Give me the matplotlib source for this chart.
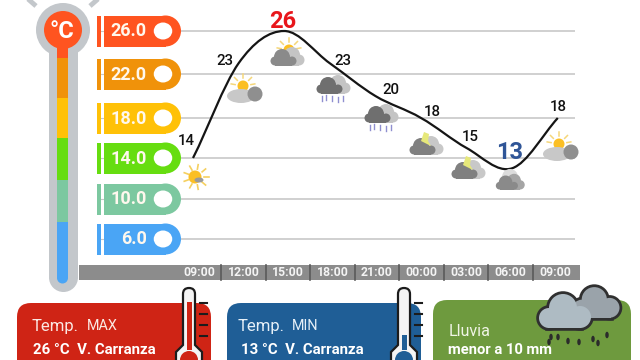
import numpy as np
import matplotlib
matplotlib.use("Agg")
import matplotlib.pyplot as plt
from matplotlib.patches import Circle, Ellipse, Rectangle, FancyBboxPatch, PathPatch, Polygon
from matplotlib.path import Path

plt.rcParams["font.family"] = ["Roboto", "DejaVu Sans"]

hours = ["09:00", "12:00", "15:00", "18:00", "21:00", "00:00", "03:00", "06:00", "09:00"]
temps = [14, 23, 26, 23, 20, 18, 15, 13, 18]
levels = [26.0, 22.0, 18.0, 14.0, 10.0, 6.0]
level_px = [31, 74, 118, 158, 199, 239]
level_colors = ["#FF5420", "#F0920A", "#FFC107", "#66DD10", "#7CC8A0", "#4AA5F5"]
icons = ["sun", "partly", "sunny_cloud", "rain", "rain", "bolt", "bolt", "cloud", "partly"]
icon_px = [(196, 177), (245, 92), (287, 56), (335, 90), (383, 119), (425, 145), (467, 169), (510, 183), (561, 150)]
label_off = [(-7, 17), (-14, 2), (-2, 10), (13, 2), (15, 6), (11, 6), (4, 11), (-3, 16), (0, 11)]

fig = plt.figure(figsize=(6.4, 3.6), dpi=100)
bg = fig.add_axes([0, 0, 1, 1])
bg.set_xlim(0, 640)
bg.set_ylim(360, 0)
bg.axis("off")
bg.set_zorder(2)


def cloud(x, y, c1="#8a8a8a", c2="#c4c4c4", s=1.0):
    # back cloud then front cloud
    for dx, dy, r in [(6, -4, 8), (13, 1, 5.5)]:
        bg.add_patch(Circle((x + dx * s, y + dy * s), r * s, color=c2, lw=0, zorder=5))
    bg.add_patch(Rectangle((x - 4 * s, y), 17 * s, 6.5 * s, color=c2, lw=0, zorder=5))
    for dx, dy, r in [(-11, 2, 4.5), (-4, -2, 8), (6, 2, 4.5)]:
        bg.add_patch(Circle((x + dx * s, y + dy * s), r * s, color=c1, lw=0, zorder=6))
    bg.add_patch(Rectangle((x - 11 * s, y + 2 * s), 17 * s, 4.5 * s, color=c1, lw=0, zorder=6))


def sun(x, y, r=5.5):
    for a in np.deg2rad([-170, -135, -90, -45, -10]):
        bg.plot([x + (r + 2.5) * np.cos(a), x + (r + 6.5) * np.cos(a)],
                [y + (r + 2.5) * np.sin(a), y + (r + 6.5) * np.sin(a)],
                color="#F5D77A", lw=1.1, zorder=4)
    bg.add_patch(Circle((x, y), r, color="#FBBF24", lw=0, zorder=4))


def draw_icon(kind, x, y):
    if kind == "sun":
        for a in np.deg2rad(np.arange(0, 360, 40)):
            bg.plot([x + 8 * np.cos(a), x + 12.5 * np.cos(a)], [y + 8 * np.sin(a), y + 12.5 * np.sin(a)],
                    color="#F5D060", lw=1.2, zorder=4)
        bg.add_patch(Circle((x - 1, y), 6.5, color="#FBBF24", lw=0, zorder=4))
        bg.add_patch(Ellipse((x + 3, y + 3), 9, 5, color="#9a9a9a", lw=0, zorder=5))
    elif kind == "partly":
        sun(x - 2, y - 6)
        bg.add_patch(Ellipse((x - 4, y + 4), 28, 14, color="#c8c8c8", lw=0, zorder=5))
        bg.add_patch(Ellipse((x + 10, y + 2), 15, 15, color="#8f8f8f", lw=0, zorder=6))
    elif kind == "sunny_cloud":
        sun(x + 2, y - 6)
        cloud(x - 1, y + 3)
    elif kind == "rain":
        cloud(x - 3, y - 3, "#6f6f6f", "#c4c4c4")
        for dx, dy in [(-13, 6), (-9, 5), (-3, 6), (3, 7), (8, 6)]:
            bg.plot([x + dx, x + dx], [y + dy, y + dy + 5], color="#8f8fd0", lw=1, zorder=6)
    elif kind == "bolt":
        bg.add_patch(Polygon([(x - 1, y - 13), (x + 4, y - 11), (x + 3, y - 4), (x + 6, y + 1), (x - 4, y - 4)],
                             color="#E6E87A", lw=0, zorder=7))
        cloud(x, y + 3, "#808080", "#c8c8c8")
    else:
        bg.add_patch(Circle((x, y - 6), 8, color="#dcdcdc", lw=0, zorder=5))
        cloud(x - 1, y + 1, "#8a8a8a", "#a5a5a5", 0.85)


# thermometer scale on the left
bg.add_patch(Circle((63, 30), 27, color="#C3C7CB", lw=0, zorder=1))
bg.add_patch(Rectangle((49, 40), 29, 238, color="#C3C7CB", lw=0, zorder=1))
bg.add_patch(Circle((63.5, 277.5), 14.5, color="#C3C7CB", lw=0, zorder=1))
bg.add_patch(Circle((63, 30), 19, color=level_colors[0], lw=0, zorder=2))
seg_edges = [40, 58, 98, 138, 180, 222, 278]
for i, col in enumerate(level_colors):
    bg.add_patch(Rectangle((57, seg_edges[i]), 11, seg_edges[i + 1] - seg_edges[i], color=col, lw=0, zorder=2))
bg.add_patch(Circle((62.5, 278), 5.5, color=level_colors[-1], lw=0, zorder=2))
bg.text(62, 31, "°C", color="white", fontsize=17, fontweight="bold", ha="center", va="center", zorder=3)
for x0, x1 in [(28, 36), (98, 90)]:
    bg.plot([x0, x1], [-1, 6], color="#C3C7CB", lw=3.5, zorder=1, solid_capstyle="butt")

# coloured pills for the temperature levels
for lev, y, col in zip(levels, level_px, level_colors):
    bg.add_patch(Rectangle((97, y - 15.5), 3.5, 31, color=col, lw=0, zorder=2))
    bg.add_patch(Rectangle((104, y - 15.5), 62, 31, color=col, lw=0, zorder=2))
    bg.add_patch(Circle((165.5, y), 15.5, color=col, lw=0, zorder=2))
    bg.plot([100, 104], [y, y], color="#c8c8c8", lw=0.8, zorder=1)
    bg.add_patch(Ellipse((163, y), 18.5, 17, color="white", lw=0, zorder=3))
    bg.text(146.5, y + 0.5, f"{lev:.1f}", color="#FFF8EE", fontsize=13, fontweight="bold",
            ha="right", va="center", zorder=3)

# time strip
bg.add_patch(Rectangle((79, 265), 501, 15, color="#8C8C8C", lw=0, zorder=1))
hour_x = np.linspace(199, 555, 9)
for x, h in zip(hour_x, hours):
    bg.text(x, 273, h, color="#F4F4F4", fontsize=8.8, fontweight="bold", ha="center", va="center", zorder=2)
for x in (hour_x[:-1] + hour_x[1:]) / 2:
    bg.plot([x, x], [265, 280], color="#5a5a5a", lw=1.2, zorder=2)

# weather icons
for kind, (x, y) in zip(icons, icon_px):
    draw_icon(kind, x, y)

# chart axes: pixel 181..575 wide, y scale follows the uneven level lines
ax = fig.add_axes([181 / 640, 1 - 260 / 360, (575 - 181) / 640, 250 / 360])
ax.set_zorder(1)
x0_px, step_px = 193, 45.6
ax.set_xlim((181 - x0_px) / step_px, (575 - x0_px) / step_px)
lev_up = np.array([0.0] + levels[::-1] + [40.0])
px_up = np.array([299.0] + level_px[::-1] + [-119.5])


def to_scale(t):
    return -np.interp(t, lev_up, px_up)


def from_scale(v):
    return np.interp(-np.asarray(v, dtype=float), px_up[::-1], lev_up[::-1])


ax.set_yscale("function", functions=(to_scale, from_scale))
ax.set_ylim(from_scale(-260), from_scale(-10))
ax.axis("off")
for lev in levels:
    ax.axhline(lev, color="#C8C8C8", lw=1.2, zorder=1)

# smooth line: cardinal spline through the readings
xs = np.arange(len(temps), dtype=float)
ys = np.array(temps, dtype=float)
tang = np.gradient(ys)
verts = [(xs[0], ys[0])]
codes = [Path.MOVETO]
for i in range(len(xs) - 1):
    verts += [(xs[i] + 1 / 3, ys[i] + tang[i] / 3), (xs[i + 1] - 1 / 3, ys[i + 1] - tang[i + 1] / 3),
              (xs[i + 1], ys[i + 1])]
    codes += [Path.CURVE4] * 3
ax.add_patch(PathPatch(Path(verts, codes), fc="none", ec="#151515", lw=1.6, zorder=3))

imax, imin = int(np.argmax(temps)), int(np.argmin(temps))
for i, (t, off) in enumerate(zip(temps, label_off)):
    col, fs, fw = "#111111", 10.8, "medium"
    if i == imax:
        col, fs, fw = "#E8161B", 17, "bold"
    elif i == imin:
        col, fs, fw = "#2F5597", 17, "bold"
    ax.annotate(str(t), (i, t), xytext=off, textcoords="offset pixels", color=col, fontsize=fs,
                fontweight=fw, ha="center", va="center", zorder=4)

# summary cards
cards = [(17, 303, 194, "#CF2415"), (227, 303, 194, "#1F5E96"), (433, 300, 198, "#6E9A3E")]
for x, y, w, col in cards:
    bg.add_patch(FancyBboxPatch((x, y), w, 90, boxstyle="round,pad=0,rounding_size=14", color=col, lw=0, zorder=1))

bg.text(32, 326, "Temp.", color="#FBE9E4", fontsize=12, ha="left", va="center", zorder=3)
bg.text(87, 326, "MAX", color="#FBE9E4", fontsize=10.4, ha="left", va="center", zorder=3)
bg.text(33, 350, "26 °C  V. Carranza", color="white", fontsize=10.8, fontweight="bold", ha="left", va="center", zorder=3)
bg.text(238, 326, "Temp.", color="#E6F0F8", fontsize=12, ha="left", va="center", zorder=3)
bg.text(292, 326, "MIN", color="#E6F0F8", fontsize=10.4, ha="left", va="center", zorder=3)
bg.text(241, 350, "13 °C  V. Carranza", color="white", fontsize=10.8, fontweight="bold", ha="left", va="center", zorder=3)
bg.text(449, 331, "Lluvia", color="#F0F5E6", fontsize=11.6, ha="left", va="center", zorder=3)
bg.text(448, 350, "menor a 10 mm", color="white", fontsize=10.6, fontweight="bold", ha="left", va="center", zorder=8)


def card_thermo(x, top, fill, liquid_top):
    # tube with outline, bulb runs off the bottom of the picture
    tube = Path([(x - 6, 345), (x - 6, top + 6), (x - 6, top), (x, top), (x + 6, top), (x + 6, top + 6), (x + 6, 345),
                 (x + 13, 352), (x + 13, 362), (x - 13, 362), (x - 13, 352), (x - 6, 345)],
                [Path.MOVETO, Path.LINETO, Path.CURVE3, Path.CURVE3, Path.CURVE3, Path.CURVE3, Path.LINETO,
                 Path.LINETO, Path.LINETO, Path.LINETO, Path.LINETO, Path.CLOSEPOLY])
    bg.add_patch(PathPatch(tube, fc="#F4F4F4", ec="#1c1c1c", lw=1.6, zorder=6))
    bg.add_patch(Rectangle((x - 2.5, liquid_top), 5, 350 - liquid_top, color=fill, lw=0, zorder=7))
    bg.add_patch(Circle((x, 360), 9, color=fill, lw=0, zorder=7))
    for ty in [top + 15, top + 26, top + 37, top + 48]:
        bg.plot([x + 11, x + 18], [ty, ty], color="#1c1c1c", lw=1.5, zorder=6)


card_thermo(189, 288, "#CF2415", 302)
card_thermo(404, 288, "#1F5E96", 335)


def outlined_cloud(x, y, s, col):
    parts = [(-17, 3, 10), (-3, -7, 14), (14, 2, 11)]
    for dx, dy, r in parts:
        bg.add_patch(Circle((x + dx * s, y + dy * s), r * s, fc="none", ec="#303030", lw=4.0, zorder=6))
    bg.add_patch(Rectangle((x - 18 * s, y + 2 * s), 33 * s, 11 * s, fc="none", ec="#303030", lw=4.0, zorder=6))
    for dx, dy, r in parts:
        bg.add_patch(Circle((x + dx * s, y + dy * s), r * s, color=col, lw=0, zorder=7))
    bg.add_patch(Rectangle((x - 18 * s, y + 2 * s), 33 * s, 11 * s, color=col, lw=0, zorder=7))


outlined_cloud(597, 306, 0.9, "#9AA3AA")
outlined_cloud(566, 315, 1.0, "#AEBBC3")
for dx, dy in [(551, 337), (558, 337), (568, 341), (579, 342), (593, 339), (598, 343), (607, 335), (549, 342)]:
    bg.add_patch(Ellipse((dx, dy), 3.5, 6.5, color="#2b2b2b", lw=0, zorder=6))

fig.savefig("out.png", dpi=100)
